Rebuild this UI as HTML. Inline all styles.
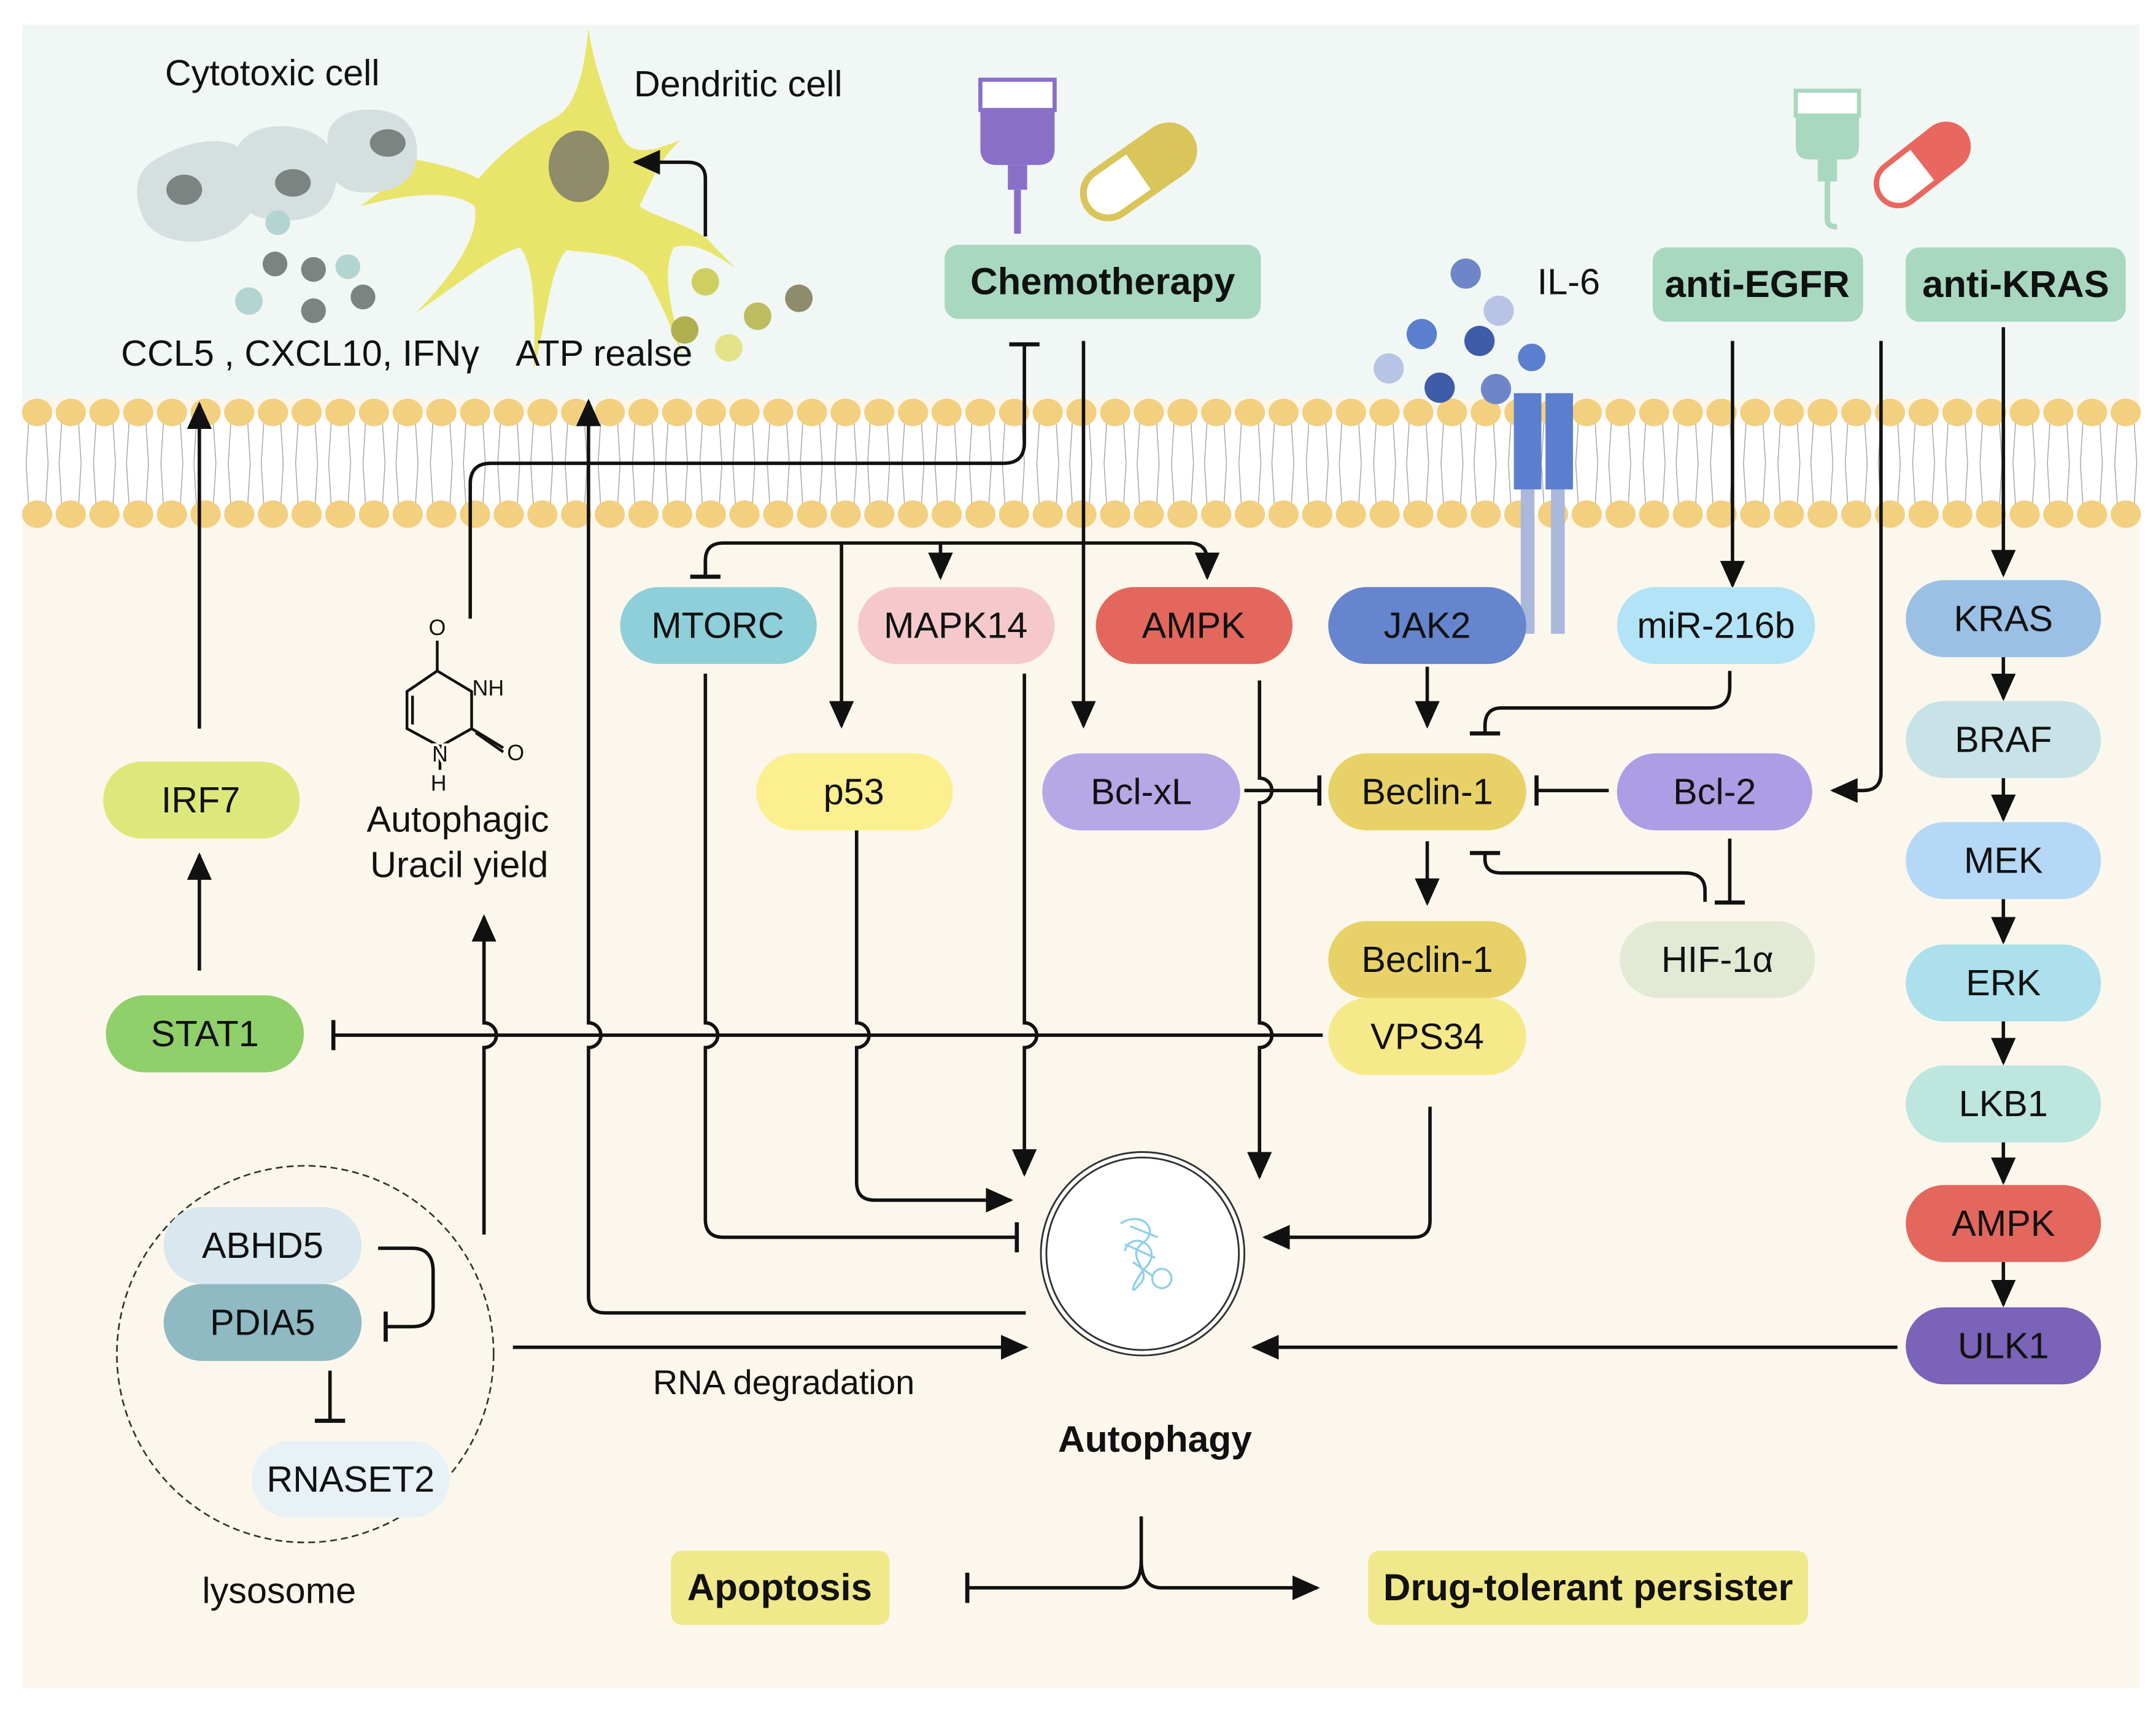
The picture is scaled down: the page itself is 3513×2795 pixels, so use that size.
<!DOCTYPE html>
<html><head><meta charset="utf-8"><style>
html,body{margin:0;padding:0;background:#fff}
svg{display:block}
text{font-family:"Liberation Sans",Arial,sans-serif;fill:#111}
</style></head><body>
<svg width="3513" height="2795" viewBox="0 0 1568 1247.5" xmlns="http://www.w3.org/2000/svg">
<defs>
<marker id="ar" markerWidth="20" markerHeight="18" refX="18" refY="9" orient="auto" markerUnits="userSpaceOnUse" viewBox="0 0 20 18"><path d="M0,0 L20,9 L0,18 z" fill="#111"/></marker>
<marker id="t" markerWidth="4" markerHeight="22" refX="2" refY="11" orient="auto" markerUnits="userSpaceOnUse" viewBox="0 0 4 22"><rect x="0" y="0" width="3" height="22" fill="#111"/></marker>
</defs>
<rect x="16" y="18" width="1540" height="272" fill="#f1f7f4"/>
<rect x="16" y="290" width="1540" height="938" fill="#fcf7ec"/>
<rect x="16" y="300" width="1540" height="75" fill="#fff"/>
<g id="mem">
<g stroke="#aaa" stroke-width="0.7" fill="none">
<path d="M21,305 L19,337 M33,305 L35,337 M19,337 L21,370 M35,337 L33,370 M45,305 L43,337 M57,305 L59,337 M43,337 L45,370 M59,337 L57,370 M70,305 L68,337 M82,305 L84,337 M68,337 L70,370 M84,337 L82,370 M94,305 L92,337 M106,305 L108,337 M92,337 L94,370 M108,337 L106,370 M119,305 L117,337 M131,305 L133,337 M117,337 L119,370 M133,337 L131,370 M143,305 L141,337 M155,305 L157,337 M141,337 L143,370 M157,337 L155,370 M168,305 L166,337 M180,305 L182,337 M166,337 L168,370 M182,337 L180,370 M192,305 L190,337 M204,305 L206,337 M190,337 L192,370 M206,337 L204,370 M217,305 L215,337 M229,305 L231,337 M215,337 L217,370 M231,337 L229,370 M241,305 L239,337 M253,305 L255,337 M239,337 L241,370 M255,337 L253,370 M266,305 L264,337 M278,305 L280,337 M264,337 L266,370 M280,337 L278,370 M290,305 L288,337 M302,305 L304,337 M288,337 L290,370 M304,337 L302,370 M315,305 L313,337 M327,305 L329,337 M313,337 L315,370 M329,337 L327,370 M339,305 L337,337 M351,305 L353,337 M337,337 L339,370 M353,337 L351,370 M364,305 L362,337 M376,305 L378,337 M362,337 L364,370 M378,337 L376,370 M388,305 L386,337 M400,305 L402,337 M386,337 L388,370 M402,337 L400,370 M413,305 L411,337 M425,305 L427,337 M411,337 L413,370 M427,337 L425,370 M437,305 L435,337 M449,305 L451,337 M435,337 L437,370 M451,337 L449,370 M462,305 L460,337 M474,305 L476,337 M460,337 L462,370 M476,337 L474,370 M486,305 L484,337 M498,305 L500,337 M484,337 L486,370 M500,337 L498,370 M511,305 L509,337 M523,305 L525,337 M509,337 L511,370 M525,337 L523,370 M535,305 L533,337 M547,305 L549,337 M533,337 L535,370 M549,337 L547,370 M560,305 L558,337 M572,305 L574,337 M558,337 L560,370 M574,337 L572,370 M584,305 L582,337 M596,305 L598,337 M582,337 L584,370 M598,337 L596,370 M609,305 L607,337 M621,305 L623,337 M607,337 L609,370 M623,337 L621,370 M633,305 L631,337 M645,305 L647,337 M631,337 L633,370 M647,337 L645,370 M658,305 L656,337 M670,305 L672,337 M656,337 L658,370 M672,337 L670,370 M682,305 L680,337 M694,305 L696,337 M680,337 L682,370 M696,337 L694,370 M707,305 L705,337 M719,305 L721,337 M705,337 L707,370 M721,337 L719,370 M731,305 L729,337 M743,305 L745,337 M729,337 L731,370 M745,337 L743,370 M756,305 L754,337 M768,305 L770,337 M754,337 L756,370 M770,337 L768,370 M780,305 L778,337 M792,305 L794,337 M778,337 L780,370 M794,337 L792,370 M805,305 L803,337 M817,305 L819,337 M803,337 L805,370 M819,337 L817,370 M829,305 L827,337 M841,305 L843,337 M827,337 L829,370 M843,337 L841,370 M854,305 L852,337 M866,305 L868,337 M852,337 L854,370 M868,337 L866,370 M878,305 L876,337 M890,305 L892,337 M876,337 L878,370 M892,337 L890,370 M903,305 L901,337 M915,305 L917,337 M901,337 L903,370 M917,337 L915,370 M927,305 L925,337 M939,305 L941,337 M925,337 L927,370 M941,337 L939,370 M952,305 L950,337 M964,305 L966,337 M950,337 L952,370 M966,337 L964,370 M976,305 L974,337 M988,305 L990,337 M974,337 L976,370 M990,337 L988,370 M1001,305 L999,337 M1013,305 L1015,337 M999,337 L1001,370 M1015,337 L1013,370 M1025,305 L1023,337 M1037,305 L1039,337 M1023,337 L1025,370 M1039,337 L1037,370 M1050,305 L1048,337 M1062,305 L1064,337 M1048,337 L1050,370 M1064,337 L1062,370 M1074,305 L1072,337 M1086,305 L1088,337 M1072,337 L1074,370 M1088,337 L1086,370 M1099,305 L1097,337 M1111,305 L1113,337 M1097,337 L1099,370 M1113,337 L1111,370 M1123,305 L1121,337 M1135,305 L1137,337 M1121,337 L1123,370 M1137,337 L1135,370 M1148,305 L1146,337 M1160,305 L1162,337 M1146,337 L1148,370 M1162,337 L1160,370 M1172,305 L1170,337 M1184,305 L1186,337 M1170,337 L1172,370 M1186,337 L1184,370 M1197,305 L1195,337 M1209,305 L1211,337 M1195,337 L1197,370 M1211,337 L1209,370 M1221,305 L1219,337 M1233,305 L1235,337 M1219,337 L1221,370 M1235,337 L1233,370 M1246,305 L1244,337 M1258,305 L1260,337 M1244,337 L1246,370 M1260,337 L1258,370 M1270,305 L1268,337 M1282,305 L1284,337 M1268,337 L1270,370 M1284,337 L1282,370 M1295,305 L1293,337 M1307,305 L1309,337 M1293,337 L1295,370 M1309,337 L1307,370 M1319,305 L1317,337 M1331,305 L1333,337 M1317,337 L1319,370 M1333,337 L1331,370 M1344,305 L1342,337 M1356,305 L1358,337 M1342,337 L1344,370 M1358,337 L1356,370 M1368,305 L1366,337 M1380,305 L1382,337 M1366,337 L1368,370 M1382,337 L1380,370 M1393,305 L1391,337 M1405,305 L1407,337 M1391,337 L1393,370 M1407,337 L1405,370 M1417,305 L1415,337 M1429,305 L1431,337 M1415,337 L1417,370 M1431,337 L1429,370 M1442,305 L1440,337 M1454,305 L1456,337 M1440,337 L1442,370 M1456,337 L1454,370 M1466,305 L1464,337 M1478,305 L1480,337 M1464,337 L1466,370 M1480,337 L1478,370 M1491,305 L1489,337 M1503,305 L1505,337 M1489,337 L1491,370 M1505,337 L1503,370 M1515,305 L1513,337 M1527,305 L1529,337 M1513,337 L1515,370 M1529,337 L1527,370 M1540,305 L1538,337 M1552,305 L1554,337 M1538,337 L1540,370 M1554,337 L1552,370"/>
</g>
<g fill="#f3cf80">
<ellipse cx="27" cy="300" rx="11" ry="10"/><ellipse cx="51.5" cy="300" rx="11" ry="10"/><ellipse cx="76" cy="300" rx="11" ry="10"/><ellipse cx="100.5" cy="300" rx="11" ry="10"/><ellipse cx="125" cy="300" rx="11" ry="10"/><ellipse cx="149.5" cy="300" rx="11" ry="10"/><ellipse cx="174" cy="300" rx="11" ry="10"/><ellipse cx="198.5" cy="300" rx="11" ry="10"/><ellipse cx="223" cy="300" rx="11" ry="10"/><ellipse cx="247.5" cy="300" rx="11" ry="10"/><ellipse cx="272" cy="300" rx="11" ry="10"/><ellipse cx="296.5" cy="300" rx="11" ry="10"/><ellipse cx="321" cy="300" rx="11" ry="10"/><ellipse cx="345.5" cy="300" rx="11" ry="10"/><ellipse cx="370" cy="300" rx="11" ry="10"/><ellipse cx="394.5" cy="300" rx="11" ry="10"/><ellipse cx="419" cy="300" rx="11" ry="10"/><ellipse cx="443.5" cy="300" rx="11" ry="10"/><ellipse cx="468" cy="300" rx="11" ry="10"/><ellipse cx="492.5" cy="300" rx="11" ry="10"/><ellipse cx="517" cy="300" rx="11" ry="10"/><ellipse cx="541.5" cy="300" rx="11" ry="10"/><ellipse cx="566" cy="300" rx="11" ry="10"/><ellipse cx="590.5" cy="300" rx="11" ry="10"/><ellipse cx="615" cy="300" rx="11" ry="10"/><ellipse cx="639.5" cy="300" rx="11" ry="10"/><ellipse cx="664" cy="300" rx="11" ry="10"/><ellipse cx="688.5" cy="300" rx="11" ry="10"/><ellipse cx="713" cy="300" rx="11" ry="10"/><ellipse cx="737.5" cy="300" rx="11" ry="10"/><ellipse cx="762" cy="300" rx="11" ry="10"/><ellipse cx="786.5" cy="300" rx="11" ry="10"/><ellipse cx="811" cy="300" rx="11" ry="10"/><ellipse cx="835.5" cy="300" rx="11" ry="10"/><ellipse cx="860" cy="300" rx="11" ry="10"/><ellipse cx="884.5" cy="300" rx="11" ry="10"/><ellipse cx="909" cy="300" rx="11" ry="10"/><ellipse cx="933.5" cy="300" rx="11" ry="10"/><ellipse cx="958" cy="300" rx="11" ry="10"/><ellipse cx="982.5" cy="300" rx="11" ry="10"/><ellipse cx="1007" cy="300" rx="11" ry="10"/><ellipse cx="1031.5" cy="300" rx="11" ry="10"/><ellipse cx="1056" cy="300" rx="11" ry="10"/><ellipse cx="1080.5" cy="300" rx="11" ry="10"/><ellipse cx="1105" cy="300" rx="11" ry="10"/><ellipse cx="1129.5" cy="300" rx="11" ry="10"/><ellipse cx="1154" cy="300" rx="11" ry="10"/><ellipse cx="1178.5" cy="300" rx="11" ry="10"/><ellipse cx="1203" cy="300" rx="11" ry="10"/><ellipse cx="1227.5" cy="300" rx="11" ry="10"/><ellipse cx="1252" cy="300" rx="11" ry="10"/><ellipse cx="1276.5" cy="300" rx="11" ry="10"/><ellipse cx="1301" cy="300" rx="11" ry="10"/><ellipse cx="1325.5" cy="300" rx="11" ry="10"/><ellipse cx="1350" cy="300" rx="11" ry="10"/><ellipse cx="1374.5" cy="300" rx="11" ry="10"/><ellipse cx="1399" cy="300" rx="11" ry="10"/><ellipse cx="1423.5" cy="300" rx="11" ry="10"/><ellipse cx="1448" cy="300" rx="11" ry="10"/><ellipse cx="1472.5" cy="300" rx="11" ry="10"/><ellipse cx="1497" cy="300" rx="11" ry="10"/><ellipse cx="1521.5" cy="300" rx="11" ry="10"/><ellipse cx="1546" cy="300" rx="11" ry="10"/>
<ellipse cx="27" cy="374" rx="11" ry="10"/><ellipse cx="51.5" cy="374" rx="11" ry="10"/><ellipse cx="76" cy="374" rx="11" ry="10"/><ellipse cx="100.5" cy="374" rx="11" ry="10"/><ellipse cx="125" cy="374" rx="11" ry="10"/><ellipse cx="149.5" cy="374" rx="11" ry="10"/><ellipse cx="174" cy="374" rx="11" ry="10"/><ellipse cx="198.5" cy="374" rx="11" ry="10"/><ellipse cx="223" cy="374" rx="11" ry="10"/><ellipse cx="247.5" cy="374" rx="11" ry="10"/><ellipse cx="272" cy="374" rx="11" ry="10"/><ellipse cx="296.5" cy="374" rx="11" ry="10"/><ellipse cx="321" cy="374" rx="11" ry="10"/><ellipse cx="345.5" cy="374" rx="11" ry="10"/><ellipse cx="370" cy="374" rx="11" ry="10"/><ellipse cx="394.5" cy="374" rx="11" ry="10"/><ellipse cx="419" cy="374" rx="11" ry="10"/><ellipse cx="443.5" cy="374" rx="11" ry="10"/><ellipse cx="468" cy="374" rx="11" ry="10"/><ellipse cx="492.5" cy="374" rx="11" ry="10"/><ellipse cx="517" cy="374" rx="11" ry="10"/><ellipse cx="541.5" cy="374" rx="11" ry="10"/><ellipse cx="566" cy="374" rx="11" ry="10"/><ellipse cx="590.5" cy="374" rx="11" ry="10"/><ellipse cx="615" cy="374" rx="11" ry="10"/><ellipse cx="639.5" cy="374" rx="11" ry="10"/><ellipse cx="664" cy="374" rx="11" ry="10"/><ellipse cx="688.5" cy="374" rx="11" ry="10"/><ellipse cx="713" cy="374" rx="11" ry="10"/><ellipse cx="737.5" cy="374" rx="11" ry="10"/><ellipse cx="762" cy="374" rx="11" ry="10"/><ellipse cx="786.5" cy="374" rx="11" ry="10"/><ellipse cx="811" cy="374" rx="11" ry="10"/><ellipse cx="835.5" cy="374" rx="11" ry="10"/><ellipse cx="860" cy="374" rx="11" ry="10"/><ellipse cx="884.5" cy="374" rx="11" ry="10"/><ellipse cx="909" cy="374" rx="11" ry="10"/><ellipse cx="933.5" cy="374" rx="11" ry="10"/><ellipse cx="958" cy="374" rx="11" ry="10"/><ellipse cx="982.5" cy="374" rx="11" ry="10"/><ellipse cx="1007" cy="374" rx="11" ry="10"/><ellipse cx="1031.5" cy="374" rx="11" ry="10"/><ellipse cx="1056" cy="374" rx="11" ry="10"/><ellipse cx="1080.5" cy="374" rx="11" ry="10"/><ellipse cx="1105" cy="374" rx="11" ry="10"/><ellipse cx="1129.5" cy="374" rx="11" ry="10"/><ellipse cx="1154" cy="374" rx="11" ry="10"/><ellipse cx="1178.5" cy="374" rx="11" ry="10"/><ellipse cx="1203" cy="374" rx="11" ry="10"/><ellipse cx="1227.5" cy="374" rx="11" ry="10"/><ellipse cx="1252" cy="374" rx="11" ry="10"/><ellipse cx="1276.5" cy="374" rx="11" ry="10"/><ellipse cx="1301" cy="374" rx="11" ry="10"/><ellipse cx="1325.5" cy="374" rx="11" ry="10"/><ellipse cx="1350" cy="374" rx="11" ry="10"/><ellipse cx="1374.5" cy="374" rx="11" ry="10"/><ellipse cx="1399" cy="374" rx="11" ry="10"/><ellipse cx="1423.5" cy="374" rx="11" ry="10"/><ellipse cx="1448" cy="374" rx="11" ry="10"/><ellipse cx="1472.5" cy="374" rx="11" ry="10"/><ellipse cx="1497" cy="374" rx="11" ry="10"/><ellipse cx="1521.5" cy="374" rx="11" ry="10"/><ellipse cx="1546" cy="374" rx="11" ry="10"/>
</g>
</g>

<!-- cells -->
<g>
<path d="M348,130 C330,120 300,115 262,110 L300,122 L262,150 C300,140 330,138 345,150 C350,170 330,200 302,228 C335,205 360,185 378,180 C388,190 390,225 388,270 C398,230 400,195 412,182 C440,185 455,185 470,200 C480,220 490,240 497,262 C490,230 480,200 490,180 C505,175 520,185 535,195 L520,180 C510,165 480,160 465,150 C475,130 480,115 495,102 L478,108 C465,110 455,112 448,90 C440,70 430,40 428,20 C425,50 420,75 405,85 C385,95 365,110 348,130 Z" fill="#e8e56a"/>
<path d="M105,160 C95,140 100,125 110,118 C125,108 150,98 170,105 C185,112 190,135 182,155 C170,172 150,178 130,175 C118,173 110,168 105,160 Z" fill="#d5dfdf"/>
<path d="M170,112 C175,98 190,90 210,92 C230,94 245,105 245,125 C245,145 235,158 215,160 C195,162 180,158 172,145 Z" fill="#d5dfdf"/>
<path d="M238,100 C240,85 255,78 275,80 C295,82 305,95 303,115 C300,135 285,140 265,140 C248,140 240,130 240,118 Z" fill="#d5dfdf"/>
<ellipse cx="134" cy="138" rx="13" ry="11" fill="#7b8481"/>
<ellipse cx="213" cy="133" rx="13" ry="10" fill="#7b8481"/>
<ellipse cx="282" cy="104" rx="13" ry="10" fill="#7b8481"/>
<circle cx="202" cy="162" r="9" fill="#b4d4d2"/>
<circle cx="200" cy="192" r="9" fill="#7b8481"/><circle cx="228" cy="196" r="9" fill="#7b8481"/><circle cx="253" cy="194" r="9" fill="#b4d4d2"/>
<circle cx="181" cy="219" r="10" fill="#b4d4d2"/><circle cx="228" cy="226" r="9" fill="#7b8481"/><circle cx="264" cy="216" r="9" fill="#7b8481"/>
<ellipse cx="421" cy="121" rx="22" ry="26" fill="#8e8c6a"/>
<circle cx="513" cy="205" r="10" fill="#cfcf60"/><circle cx="581" cy="217" r="10" fill="#8e8c6a"/><circle cx="551" cy="230" r="10" fill="#bcbc60"/><circle cx="498" cy="240" r="10" fill="#b0b050"/><circle cx="530" cy="253" r="10" fill="#e3e48a"/>
<path d="M513,172 L513,130 Q513,118 500,118 L462,118" stroke="#111" stroke-width="2.5" fill="none" marker-end="url(#ar)"/>
</g>
<!-- drugs -->
<g>
<path d="M713,58 L767,58 L767,108 Q767,120 755,120 L725,120 Q713,120 713,108 Z" fill="#8a6fc8"/>
<rect x="713" y="58" width="54" height="22" fill="#fff" stroke="#8a6fc8" stroke-width="3"/>
<rect x="733" y="120" width="14" height="18" fill="#8a6fc8"/>
<path d="M740,138 L740,170" stroke="#8a6fc8" stroke-width="5"/>
<g transform="translate(828,125) rotate(-35)"><rect x="-45" y="-18" width="90" height="36" rx="18" fill="#fff" stroke="#d9c55a" stroke-width="5"/><path d="M0,-18 L27,-18 A18,18 0 0 1 27,18 L0,18 Z" fill="#d9c55a"/></g>
<path d="M1306,66 L1352,66 L1352,106 Q1352,116 1342,116 L1316,116 Q1306,116 1306,106 Z" fill="#a8d8c0"/>
<rect x="1306" y="66" width="46" height="18" fill="#fff" stroke="#a8d8c0" stroke-width="3"/>
<rect x="1322" y="116" width="14" height="16" fill="#a8d8c0"/>
<path d="M1329,132 L1329,160 Q1329,165 1336,165" stroke="#a8d8c0" stroke-width="4" fill="none"/>
<g transform="translate(1398,120) rotate(-38)"><rect x="-38" y="-16" width="76" height="32" rx="16" fill="#fff" stroke="#e8675e" stroke-width="4"/><path d="M0,-16 L22,-16 A16,16 0 0 1 22,16 L0,16 Z" fill="#e8675e"/></g>
</g>
<!-- IL6 -->
<g>
<circle cx="1066" cy="199" r="11" fill="#6e86c8"/><circle cx="1090" cy="226" r="11" fill="#b8c4e6"/><circle cx="1034" cy="243" r="11" fill="#5b7fcf"/><circle cx="1076" cy="248" r="11" fill="#3f5ca8"/><circle cx="1114" cy="260" r="10" fill="#5b7fcf"/><circle cx="1010" cy="268" r="11" fill="#b8c4e6"/><circle cx="1047" cy="282" r="11" fill="#3f5ca8"/><circle cx="1088" cy="283" r="11" fill="#6e86c8"/>
<rect x="1106" y="356" width="10" height="105" fill="#aab8dc"/><rect x="1128" y="356" width="10" height="105" fill="#aab8dc"/>
<rect x="1101" y="286" width="20" height="70" fill="#5b7fcf"/><rect x="1124" y="286" width="20" height="70" fill="#5b7fcf"/>
</g>

<!-- connectors -->
<g stroke="#111" stroke-width="2.5" fill="none">
<path d="M342,450 L342,352 Q342,337 357,337 L730,337 Q745,337 745,322 L745,250" marker-end="url(#t)"/>
<path d="M788,248 L788,528" marker-end="url(#ar)"/>
<path d="M513,418 L513,408 Q513,395 526,395 L865,395 Q878,395 878,408 L878,420" marker-end="url(#ar)"/>
<path d="M513,408 L513,420" marker-end="url(#t)"/>
<path d="M684,395 L684,420" marker-end="url(#ar)"/>
<path d="M612,395 L612,528" marker-end="url(#ar)"/>
<path d="M145,530 L145,294" marker-end="url(#ar)"/>
<path d="M145,706 L145,622" marker-end="url(#ar)"/>
<path d="M962,753 L242,753" marker-end="url(#t)"/>
<path d="M352,898 L352,762 A9,9 0 0 0 352,744 L352,667" marker-end="url(#ar)"/>
<path d="M746,955 L440,955 Q428,955 428,943 L428,762 A9,9 0 0 0 428,744 L428,292" marker-end="url(#ar)"/>
<path d="M513,490 L513,744 A9,9 0 0 1 513,762 L513,887 Q513,900 526,900 L740,900" marker-end="url(#t)"/>
<path d="M623,604 L623,744 A9,9 0 0 1 623,762 L623,860 Q623,873 636,873 L735,873" marker-end="url(#ar)"/>
<path d="M745,490 L745,744 A9,9 0 0 1 745,762 L745,854" marker-end="url(#ar)"/>
<path d="M916,495 L916,566 A9,9 0 0 1 916,584 L916,744 A9,9 0 0 1 916,762 L916,856" marker-end="url(#ar)"/>
<path d="M905,575 L960,575" marker-end="url(#t)"/>
<path d="M1040,805 L1040,888 Q1040,900 1028,900 L920,900" marker-end="url(#ar)"/>
<path d="M1380,980 L912,980" marker-end="url(#ar)"/>
<path d="M373,980 L746,980" marker-end="url(#ar)"/>
<path d="M275,908 L300,908 Q315,908 315,925 L315,950 Q315,965 300,965 L280,965" marker-end="url(#t)"/>
<path d="M240,997 L240,1034" marker-end="url(#t)"/>
<path d="M1170,575 L1117,575" marker-end="url(#t)"/>
<path d="M1038,485 L1038,528" marker-end="url(#ar)"/>
<path d="M1258,488 L1258,500 Q1258,515 1243,515 L1092,515 Q1080,515 1080,528 L1080,534" marker-end="url(#t)"/>
<path d="M1038,612 L1038,657" marker-end="url(#ar)"/>
<path d="M1240,656 L1240,648 Q1240,635 1225,635 L1092,635 Q1080,635 1080,625 L1080,620" marker-end="url(#t)"/>
<path d="M1258,610 L1258,657" marker-end="url(#t)"/>
<path d="M1260,248 L1260,426" marker-end="url(#ar)"/>
<path d="M1368,248 L1368,562 Q1368,575 1355,575 L1333,575" marker-end="url(#ar)"/>
<path d="M1457,238 L1457,418" marker-end="url(#ar)"/>
<path d="M1457,478 L1457,508" marker-end="url(#ar)"/>
<path d="M1457,566 L1457,596" marker-end="url(#ar)"/>
<path d="M1457,654 L1457,685" marker-end="url(#ar)"/>
<path d="M1457,742 L1457,773" marker-end="url(#ar)"/>
<path d="M1457,830 L1457,860" marker-end="url(#ar)"/>
<path d="M1457,918 L1457,949" marker-end="url(#ar)"/>
<path d="M830,1103 L830,1135 Q830,1155 815,1155 L703,1155" marker-end="url(#t)"/>
<path d="M830,1135 Q830,1155 845,1155 L958,1155" marker-end="url(#ar)"/>
</g>

<!-- lysosome & autophagy -->
<circle cx="222" cy="985" r="137" fill="none" stroke="#333" stroke-width="1.2" stroke-dasharray="5,3"/>
<circle cx="831" cy="912" r="74" fill="#fff" stroke="#333" stroke-width="1.3"/>
<circle cx="831" cy="912" r="70" fill="none" stroke="#333" stroke-width="1.3"/>
<g stroke="#8fd0ea" stroke-width="1.5" fill="none"><path d="M815,890 C830,880 845,895 830,905 C818,915 840,925 828,935 C820,945 825,930 835,920 C845,905 822,895 818,910"/><path d="M822,892 L842,900 M818,905 L840,915 M824,918 L838,928"/><circle cx="845" cy="930" r="7"/></g>

<!-- uracil -->
<g stroke="#111" stroke-width="2" fill="none">
<path d="M318,466 L318,488 L343,503 L343,530 L320,543 L296,530 L296,503 L318,488"/>
<path d="M300,506 L300,527"/><path d="M343,530 L366,544"/><path d="M346,533 L366,547"/><path d="M320,543 L320,560"/>
</g>
<text x="318" y="462" font-size="16" text-anchor="middle">O</text>
<text x="355" y="506" font-size="16" text-anchor="middle">NH</text>
<text x="320" y="554" font-size="16" text-anchor="middle" style="paint-order:stroke;stroke:#fcf7ec;stroke-width:4">N</text>
<text x="375" y="553" font-size="16" text-anchor="middle">O</text>
<text x="319" y="575" font-size="16" text-anchor="middle">H</text>

<!-- nodes -->
<g>
<rect x="687" y="178" width="230" height="54" rx="10" fill="#a8d8c0"/>
<rect x="1202" y="180" width="153" height="54" rx="10" fill="#a8d8c0"/>
<rect x="1386" y="180" width="160" height="54" rx="10" fill="#a8d8c0"/>
<rect x="451" y="427" width="143" height="56" rx="28" fill="#8ecfd9"/>
<rect x="624" y="427" width="143" height="56" rx="28" fill="#f5c9cc"/>
<rect x="797" y="427" width="143" height="56" rx="28" fill="#e4675d"/>
<rect x="966" y="427" width="144" height="56" rx="28" fill="#6685cf"/>
<rect x="1176" y="427" width="144" height="56" rx="28" fill="#b3e3f6"/>
<rect x="1386" y="422" width="142" height="56" rx="28" fill="#9bc0e6"/>
<rect x="1386" y="510" width="142" height="56" rx="28" fill="#c8e3e8"/>
<rect x="1386" y="598" width="142" height="56" rx="28" fill="#b5d8f6"/>
<rect x="1386" y="687" width="142" height="56" rx="28" fill="#abe0ec"/>
<rect x="1386" y="775" width="142" height="56" rx="28" fill="#bce6de"/>
<rect x="1386" y="862" width="142" height="56" rx="28" fill="#e4675d"/>
<rect x="1386" y="951" width="142" height="56" rx="28" fill="#7a63b8"/>
<rect x="75" y="554" width="143" height="56" rx="28" fill="#dce97a"/>
<rect x="550" y="548" width="143" height="56" rx="28" fill="#fbef8f"/>
<rect x="758" y="548" width="144" height="56" rx="28" fill="#b6a8e6"/>
<rect x="966" y="548" width="144" height="56" rx="28" fill="#e8d268"/>
<rect x="1176" y="548" width="142" height="56" rx="28" fill="#ad9de4"/>
<rect x="1178" y="670" width="142" height="56" rx="28" fill="#e2ead6"/>
<rect x="966" y="726" width="144" height="56" rx="28" fill="#f6e98a"/>
<rect x="966" y="670" width="144" height="56" rx="28" fill="#e8d268"/>
<rect x="77" y="724" width="144" height="56" rx="28" fill="#8fd06a"/>
<rect x="119" y="934" width="144" height="56" rx="28" fill="#8fbac3"/>
<rect x="119" y="878" width="144" height="56" rx="28" fill="#d8e8ee"/>
<rect x="183" y="1048" width="144" height="56" rx="28" fill="#e8f1f5"/>
<rect x="488" y="1128" width="159" height="54" rx="8" fill="#f0e98c"/>
<rect x="995" y="1128" width="320" height="54" rx="8" fill="#f0e98c"/>
</g>
<g font-size="26.5" text-anchor="middle">
<text x="802" y="214" font-weight="bold" font-size="27.5">Chemotherapy</text>
<text x="1278" y="216" font-weight="bold" font-size="27.5">anti-EGFR</text>
<text x="1466" y="216" font-weight="bold" font-size="27.5">anti-KRAS</text>
<text x="522" y="464">MTORC</text>
<text x="695" y="464">MAPK14</text>
<text x="868" y="464">AMPK</text>
<text x="1038" y="464">JAK2</text>
<text x="1248" y="464">miR-216b</text>
<text x="1457" y="459">KRAS</text>
<text x="1457" y="547">BRAF</text>
<text x="1457" y="635">MEK</text>
<text x="1457" y="724">ERK</text>
<text x="1457" y="812">LKB1</text>
<text x="1457" y="899">AMPK</text>
<text x="1457" y="988">ULK1</text>
<text x="146" y="591">IRF7</text>
<text x="621" y="585">p53</text>
<text x="830" y="585">Bcl-xL</text>
<text x="1038" y="585">Beclin-1</text>
<text x="1247" y="585">Bcl-2</text>
<text x="1249" y="707">HIF-1α</text>
<text x="1038" y="707">Beclin-1</text>
<text x="1038" y="763">VPS34</text>
<text x="149" y="761">STAT1</text>
<text x="191" y="915">ABHD5</text>
<text x="191" y="971">PDIA5</text>
<text x="255" y="1085">RNASET2</text>
<text x="567" y="1164" font-weight="bold" font-size="27.5">Apoptosis</text>
<text x="1155" y="1164" font-weight="bold" font-size="27.5">Drug-tolerant persister</text>
<text x="840" y="1056" font-weight="bold" font-size="27">Autophagy</text>
<text x="203" y="1166">lysosome</text>
<text x="333" y="605">Autophagic</text>
<text x="334" y="638">Uracil yield</text>
<text x="570" y="1014" font-size="25">RNA degradation</text>
</g>
<g font-size="26.5">
<text x="120" y="62">Cytotoxic cell</text>
<text x="461" y="70">Dendritic cell</text>
<text x="88" y="266">CCL5 , CXCL10, IFNγ</text>
<text x="375" y="266">ATP realse</text>
<text x="1118" y="214">IL-6</text>
</g>
</svg>
</body></html>
